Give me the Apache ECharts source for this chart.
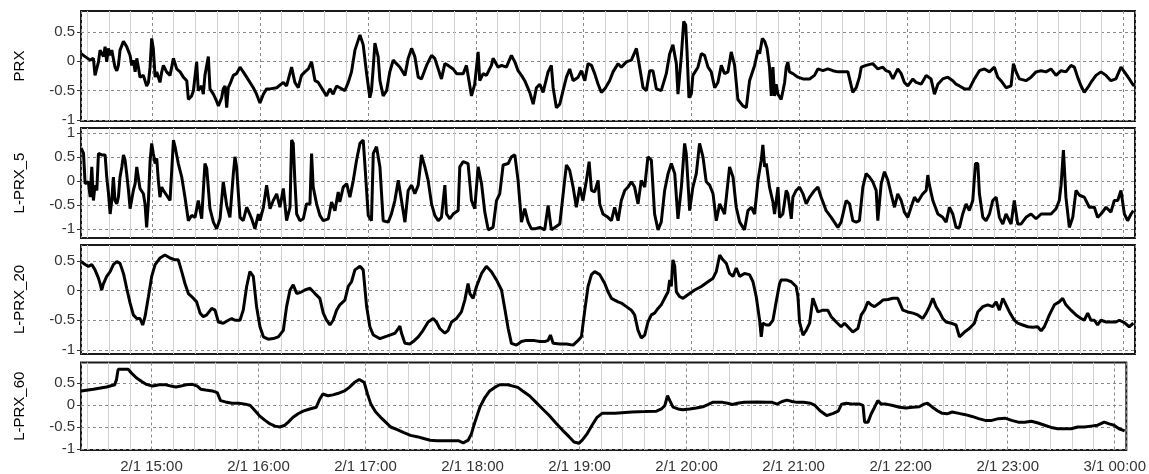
<!DOCTYPE html>
<html><head><meta charset="utf-8">
<script src="https://cdn.jsdelivr.net/npm/echarts@6/dist/echarts.min.js"></script>
<style>html,body{margin:0;padding:0;background:#fff}#c{width:1149px;height:474px}</style>
</head><body><div id="c"></div>
<script>
// time = minutes after 2/1 14:00, value
const prx = [[20.6,0.13],[22.8,0.08],[25.6,0.02],[27.4,0.05],[28.3,-0.24],[30.2,-0.01],[31.1,0.19],[33.0,0.08],[33.9,0.25],[34.8,-0.01],[35.7,0.22],[36.7,0.10],[37.6,0.19],[39.4,-0.10],[40.4,-0.16],[41.3,-0.07],[42.2,0.19],[44.1,0.34],[45.9,0.25],[47.8,0.10],[48.7,-0.07],[49.6,0.02],[50.6,-0.18],[51.5,0.05],[52.4,-0.10],[53.3,-0.27],[55.2,-0.24],[57.0,-0.42],[58.0,-0.36],[58.9,-0.10],[59.8,0.39],[60.7,0.22],[61.7,-0.27],[62.6,-0.18],[64.4,-0.36],[65.4,-0.18],[66.3,-0.07],[68.1,-0.18],[70.0,-0.24],[71.9,0.05],[73.7,-0.13],[75.6,-0.18],[77.4,-0.27],[79.3,-0.33],[80.2,-0.65],[82.0,-0.59],[83.0,-0.50],[84.8,-0.01],[85.7,-0.50],[87.6,-0.42],[88.5,-0.56],[89.4,-0.24],[91.3,0.08],[92.2,-0.47],[94.1,-0.56],[95.9,-0.68],[96.9,-0.76],[97.8,-0.73],[98.7,-0.62],[99.6,-0.47],[100.6,-0.42],[101.5,-0.79],[102.4,-0.45],[103.3,-0.39],[105.2,-0.24],[107.0,-0.21],[108.9,-0.10],[110.7,-0.18],[112.6,-0.27],[116.3,-0.45],[118.1,-0.56],[120.0,-0.71],[121.9,-0.56],[123.7,-0.47],[125.6,-0.47],[129.3,-0.45],[133.0,-0.36],[134.8,-0.42],[137.6,-0.10],[139.4,-0.36],[141.3,-0.45],[143.1,-0.24],[145.0,-0.18],[146.9,-0.13],[148.7,-0.01],[150.6,-0.33],[152.4,-0.36],[155.2,-0.50],[157.0,-0.59],[158.9,-0.47],[160.7,-0.56],[162.6,-0.42],[164.4,-0.45],[167.2,-0.50],[169.1,-0.36],[170.9,-0.18],[172.8,0.19],[175.6,0.45],[177.4,0.28],[179.3,-0.21],[181.1,-0.62],[182.0,-0.50],[183.0,-0.10],[183.9,0.31],[184.8,0.34],[185.7,0.08],[186.7,-0.33],[188.5,-0.59],
[190.4,-0.50],[192.2,-0.18],[194.1,0.02],[195.9,-0.04],[197.8,-0.10],[200.6,-0.24],[202.4,0.05],[204.3,0.22],[206.1,0.08],[208.0,-0.27],[209.8,-0.30],[212.6,-0.07],[215.4,0.10],[217.2,0.05],[219.1,-0.13],[220.9,-0.30],[222.8,-0.04],[224.6,-0.07],[227.4,-0.13],[229.3,-0.21],[233.0,-0.21],[234.8,-0.07],[237.6,-0.59],[239.4,-0.39],[241.3,0.16],[242.2,-0.33],[244.1,-0.21],[245.9,-0.24],[248.7,-0.07],[249.6,0.05],[252.4,-0.10],[254.3,-0.07],[257.0,-0.10],[259.8,0.10],[261.7,-0.01],[263.5,-0.16],[265.4,-0.24],[267.2,-0.33],[270.0,-0.53],[271.9,-0.73],[273.7,-0.45],[275.6,-0.39],[277.4,-0.53],[280.2,-0.18],[282.0,-0.07],[283.0,-0.45],[284.8,-0.79],[286.7,-0.73],[288.5,-0.50],[290.4,-0.27],[292.2,-0.13],[294.1,-0.33],[296.9,-0.27],[298.7,-0.16],[300.6,-0.33],[302.4,-0.04],[304.3,-0.07],[306.1,-0.21],[308.0,-0.39],[309.8,-0.53],[311.7,-0.47],[314.4,-0.33],[316.3,-0.18],[319.1,-0.04],[320.9,-0.10],[323.7,-0.01],[326.5,0.02],[329.3,0.22],[331.1,-0.10],[333.0,-0.45],[334.8,-0.50],[336.7,-0.16],[338.5,-0.16],[340.4,-0.47],[343.1,-0.50],[345.9,-0.21],[347.8,0.13],[349.6,0.28],[351.5,-0.04],[352.4,-0.56],[354.3,0.10],[355.6,0.68],[356.7,0.62],[357.4,0.19],[358.5,-0.62],[359.8,-0.56],[360.7,-0.24],[363.5,-0.10],[365.4,0.13],[367.2,0.10],[369.1,-0.10],[370.9,-0.18],[372.8,-0.45],[374.6,-0.36],[376.5,-0.07],[378.3,-0.21],[380.2,-0.18],[382.0,0.16],[383.9,-0.07],[385.7,-0.65],[388.5,-0.76],[390.4,-0.79],[392.2,-0.33],[395.0,-0.07],[396.9,0.19],[397.8,0.13],[399.3,0.39],[400.6,0.34],[401.9,0.22],[403.3,-0.10],[404.3,-0.59],
[405.2,-0.10],[406.1,-0.59],[407.0,-0.39],[408.0,-0.56],[409.8,-0.65],[411.7,-0.36],[412.6,-0.10],[413.5,-0.01],[414.4,-0.18],[416.3,-0.21],[419.1,-0.27],[421.9,-0.30],[425.6,-0.30],[428.3,-0.24],[430.2,-0.13],[433.0,-0.16],[435.7,-0.13],[438.5,-0.16],[441.3,-0.18],[444.1,-0.18],[446.9,-0.18],[449.6,-0.53],[451.5,-0.45],[453.3,-0.27],[454.3,-0.10],[457.0,-0.07],[460.7,-0.04],[463.5,-0.13],[466.3,-0.10],[468.1,-0.16],[470.0,-0.18],[471.9,-0.30],[474.6,-0.13],[476.5,-0.21],[478.3,-0.36],[480.2,-0.42],[483.0,-0.30],[484.8,-0.36],[487.6,-0.39],[490.4,-0.24],[493.1,-0.30],[495.0,-0.56],[496.9,-0.39],[499.6,-0.30],[502.4,-0.27],[505.2,-0.33],[507.0,-0.39],[508.9,-0.42],[511.7,-0.47],[514.4,-0.47],[517.2,-0.30],[520.0,-0.16],[522.8,-0.13],[525.6,-0.18],[528.3,-0.10],[530.2,-0.27],[532.0,-0.33],[534.8,-0.45],[537.6,-0.42],[538.9,-0.04],[540.4,-0.18],[542.2,-0.30],[545.9,-0.33],[548.7,-0.27],[551.5,-0.18],[554.3,-0.16],[557.0,-0.18],[559.8,-0.13],[562.6,-0.24],[565.4,-0.16],[568.1,-0.18],[570.9,-0.07],[572.8,-0.10],[574.6,-0.27],[576.5,-0.42],[578.3,-0.53],[580.2,-0.45],[582.0,-0.36],[584.8,-0.24],[587.6,-0.18],[590.4,-0.24],[593.1,-0.33],[595.9,-0.30],[598.7,-0.10],[600.6,-0.18],[603.3,-0.30],[605.2,-0.39],[606.1,-0.42]];

const lprx5 = [[20.6,0.69],[21.9,0.58],[22.8,-0.05],[23.7,-0.08],[24.6,-0.01],[25.6,-0.33],[26.5,0.30],[27.4,-0.40],[28.3,-0.08],[29.3,-0.19],[30.2,0.58],[31.1,0.62],[32.0,0.55],[33.0,0.51],[33.9,0.55],[34.8,0.09],[35.7,-0.22],[36.7,-0.68],[37.6,-0.40],[38.5,0.09],[39.4,-0.40],[40.4,-0.47],[41.3,-0.33],[42.2,0.09],[43.2,0.30],[44.1,0.55],[45.0,0.44],[45.9,0.16],[46.9,-0.19],[47.8,-0.57],[48.7,-0.54],[49.6,-0.19],[50.6,-0.05],[51.5,0.30],[52.4,0.34],[53.3,-0.15],[55.2,-0.26],[56.1,-0.47],[57.0,-0.96],[58.0,-0.40],[58.9,0.41],[59.8,0.79],[60.7,0.58],[61.7,0.37],[62.6,0.48],[63.5,0.02],[64.4,-0.33],[65.4,-0.12],[66.3,-0.19],[68.1,-0.29],[70.0,-0.40],[71.9,0.86],[72.8,0.72],[74.6,0.37],[76.5,0.09],[78.3,-0.33],[80.2,-0.82],[82.0,-0.71],[83.9,-0.75],[85.7,-0.40],[87.6,-0.78],[89.4,0.37],[90.4,0.27],[92.2,-0.57],[94.1,-0.85],[95.9,-0.99],[97.8,-0.78],[99.6,-0.01],[101.5,-0.50],[103.3,-0.75],[105.2,0.16],[106.1,0.51],[107.0,0.30],[108.0,-0.26],[108.9,-0.75],[110.7,-0.82],[112.6,-0.54],[113.5,-0.61],[115.4,-0.78],[117.2,-0.99],[119.1,-0.68],[120.0,-0.82],[121.9,-0.54],[123.7,-0.08],[125.6,-0.57],[127.4,-0.40],[129.3,-0.26],[131.1,-0.54],[133.0,-0.15],[134.8,-0.82],[136.7,-0.54],[137.6,0.86],[138.5,0.79],[139.4,0.02],[140.4,-0.68],[142.2,-0.82],[144.1,-0.78],[145.9,-0.47],[147.8,-0.47],[148.7,0.58],[149.6,-0.12],[151.5,-0.47],[153.3,-0.71],[155.2,-0.82],[158.0,-0.78],[159.8,-0.43],[161.7,-0.61],[163.5,-0.22],[164.4,-0.43],[166.3,-0.12],[168.2,-0.05],[170.0,-0.33],[171.9,0.02],[173.7,0.44],[175.6,0.79],[177.4,0.86],[178.3,0.37],[180.2,-0.71],[182.0,-0.82],[183.0,0.58],[184.8,0.72],[186.7,0.30],[188.5,-0.82],[191.3,-0.85],[193.1,-0.68],[195.0,-0.40],[196.9,0.02],
[197.8,-0.19],[200.6,-0.85],[202.4,-0.19],[204.3,-0.08],[206.1,-0.26],[208.0,-0.08],[209.8,0.55],[211.7,0.30],[213.5,0.02],[215.4,-0.47],[217.2,-0.71],[219.1,-0.82],[220.9,-0.75],[222.8,-0.08],[223.7,-0.68],[225.6,-0.78],[227.4,-0.68],[230.2,-0.61],[231.1,0.30],[233.0,0.41],[235.7,0.37],[237.6,-0.40],[239.4,-0.57],[241.3,0.30],[243.2,-0.05],[245.0,-0.64],[246.9,-1.01],[249.6,-0.96],[251.5,-0.40],[253.3,-0.26],[255.2,0.34],[258.0,0.37],[259.8,0.51],[261.7,0.55],[263.5,0.02],[265.4,-0.85],[267.2,-0.57],[269.1,-0.85],[270.9,-0.99],[272.8,-0.99],[275.6,-0.96],[278.3,-1.01],[280.2,-0.50],[282.0,-1.01],[283.9,-0.96],[286.7,-0.89],[289.4,0.02],[290.4,0.34],[292.2,0.23],[294.1,-0.12],[295.9,-0.54],[297.8,-0.12],[299.6,-0.40],[301.5,0.02],[303.0,0.41],[304.3,-0.19],[306.1,-0.22],[308.0,0.02],[308.9,-0.47],[310.7,-0.68],[313.5,-0.75],[315.4,-0.82],[317.2,-0.54],[319.1,-0.82],[320.9,-0.40],[322.8,-0.19],[324.6,-0.12],[326.5,-0.01],[328.3,-0.12],[330.2,-0.47],[332.0,0.02],[333.9,-0.12],[335.7,0.51],[337.6,0.44],[339.4,-0.68],[341.3,-1.01],[343.1,-0.85],[345.0,-0.19],[346.9,0.16],[348.7,0.37],[350.6,0.16],[352.4,-0.78],[354.3,-0.12],[356.1,0.79],[357.0,0.58],[358.9,-0.61],[360.7,-0.12],[362.6,0.16],[364.4,0.79],[366.3,0.51],[368.1,-0.01],[370.0,-0.08],[371.9,-0.26],[373.7,-0.82],[375.6,-0.47],[378.3,-0.68],[381.1,0.30],[383.0,0.09],[384.8,-0.54],[386.7,-0.85],[389.4,-1.01],[391.3,-0.61],[393.2,-0.54],[395.0,-0.68],[396.9,0.02],[398.7,0.44],[399.6,0.76],[400.6,0.30],[401.5,0.37],[403.3,-0.12],[405.2,-0.43],
[406.1,-0.68],[408.0,-0.12],[408.9,-0.75],[410.7,-0.68],[412.6,-0.19],[413.5,-0.26],[415.4,-0.78],[416.3,-0.33],[418.1,-0.19],[420.0,-0.12],[421.9,-0.26],[423.7,-0.47],[425.6,-0.33],[428.3,-0.19],[430.2,-0.12],[432.0,-0.33],[434.8,-0.61],[437.6,-0.75],[441.3,-0.96],[443.1,-0.85],[445.9,-0.40],[447.8,-0.47],[449.6,-0.82],[451.5,-0.85],[453.3,-0.82],[455.2,-0.12],[457.0,0.16],[458.9,0.09],[460.7,-0.01],[462.6,-0.19],[463.5,-0.82],[465.4,-0.05],[467.2,0.20],[469.1,0.02],[470.9,-0.26],[472.8,-0.54],[474.6,-0.26],[476.5,-0.40],[478.3,-0.64],[480.2,-0.75],[482.0,-0.54],[483.9,-0.33],[485.7,-0.43],[488.5,-0.26],[490.4,-0.19],[491.3,0.13],[492.2,-0.08],[494.1,-0.40],[496.9,-0.68],[499.6,-0.75],[501.5,-0.85],[503.3,-0.54],[505.2,-0.68],[507.0,-0.96],[508.9,-0.96],[510.7,-0.68],[512.6,-0.47],[514.4,-0.61],[516.3,-0.40],[517.8,0.37],[519.1,0.37],[520.0,-0.26],[521.9,-0.75],[523.7,-0.82],[525.6,-0.68],[527.4,-0.40],[529.3,-0.33],[531.1,-0.75],[533.0,-0.89],[534.8,-0.68],[537.6,-0.89],[539.4,-0.40],[541.3,-0.89],[543.1,-0.89],[545.9,-0.75],[548.7,-0.68],[551.5,-0.78],[554.3,-0.68],[557.0,-0.68],[559.8,-0.68],[562.6,-0.57],[564.4,-0.40],[565.4,-0.08],[566.7,0.65],[568.1,-0.33],[570.0,-0.96],[571.9,-0.75],[573.7,-0.19],[575.6,-0.29],[578.3,-0.33],[581.1,-0.54],[583.9,-0.54],[585.7,-0.75],[587.6,-0.68],[590.4,-0.54],[593.1,-0.64],[595.0,-0.40],[596.9,-0.40],[598.7,-0.19],[600.6,-0.68],[602.4,-0.82],[604.3,-0.68],[605.6,-0.61]];

const lprx20 = [[20.6,0.49],[22.8,0.44],[24.6,0.41],[26.5,0.44],[28.3,0.35],[30.2,0.21],[31.1,0.12],[32.0,0.01],[33.0,0.12],[34.8,0.24],[36.7,0.32],[38.5,0.44],[40.4,0.49],[42.2,0.46],[44.1,0.29],[45.9,0.04],[47.8,-0.21],[49.6,-0.41],[51.5,-0.47],[53.3,-0.47],[54.8,-0.58],[56.1,-0.44],[58.0,-0.10],[59.8,0.24],[61.7,0.44],[64.4,0.55],[67.2,0.60],[70.0,0.55],[72.8,0.52],[74.6,0.52],[76.5,0.32],[78.3,0.12],[80.2,-0.05],[82.0,-0.10],[84.8,-0.19],[86.7,-0.38],[88.5,-0.44],[90.4,-0.41],[93.2,-0.30],[95.0,-0.33],[96.9,-0.53],[99.6,-0.55],[102.4,-0.50],[104.3,-0.47],[106.1,-0.50],[108.9,-0.50],[110.7,-0.33],[112.6,0.07],[114.4,0.32],[116.3,0.24],[118.1,-0.27],[120.0,-0.61],[121.9,-0.78],[124.6,-0.82],[127.4,-0.81],[130.2,-0.78],[133.0,-0.67],[134.8,-0.27],[136.7,0.01],[138.5,0.10],[140.4,-0.05],[143.2,-0.02],[145.0,0.01],[147.8,0.04],[150.6,-0.05],[153.3,-0.13],[155.2,-0.38],[157.0,-0.50],[158.9,-0.58],[160.7,-0.50],[162.6,-0.33],[164.4,-0.24],[167.2,-0.16],[169.1,0.07],[170.9,0.15],[172.8,0.35],[175.6,0.41],[177.4,0.35],[179.3,-0.27],[181.1,-0.61],[183.0,-0.75],[186.7,-0.81],
[189.4,-0.78],[192.2,-0.75],[195.0,-0.72],[196.9,-0.64],[197.8,-0.60],[198.7,-0.72],[200.6,-0.89],[203.3,-0.90],[205.2,-0.86],[208.0,-0.78],[210.7,-0.67],[213.5,-0.53],[216.3,-0.47],[218.1,-0.53],[220.0,-0.64],[222.8,-0.72],[224.6,-0.67],[226.5,-0.53],[229.3,-0.47],[232.0,-0.36],[233.9,-0.16],[235.7,0.12],[236.7,-0.05],[238.5,-0.13],[240.4,0.07],[243.2,0.29],[245.9,0.41],[248.7,0.32],[251.5,0.18],[254.3,0.01],[256.1,-0.30],[258.0,-0.64],[259.8,-0.89],[262.6,-0.92],[265.4,-0.86],[268.1,-0.84],[271.9,-0.84],[275.6,-0.86],[278.3,-0.86],[280.2,-0.84],[281.5,-0.75],[283.0,-0.89],[286.7,-0.90],[290.4,-0.90],[294.1,-0.92],[296.9,-0.84],[298.7,-0.78],[300.6,-0.33],[302.4,0.07],[304.3,0.27],[306.1,0.32],[308.9,0.27],[311.7,0.12],[313.5,-0.02],[315.4,-0.13],[317.2,-0.16],[319.1,-0.19],[320.9,-0.21],[323.7,-0.27],[326.5,-0.33],[328.3,-0.41],[330.2,-0.67],[332.0,-0.80],[333.9,-0.75],[335.7,-0.53],[337.6,-0.41],[339.4,-0.38],[341.3,-0.30],[343.1,-0.24],[345.0,-0.13],[346.9,-0.02],[347.8,0.18],[348.7,0.07],[349.6,0.52],[350.6,0.41],[351.5,-0.02],[353.3,-0.10],[355.2,-0.13],[357.9,-0.07],[361.7,0.01],[365.4,0.07],[369.1,0.15],[371.9,0.21],[373.7,0.32],[375.6,0.60],[377.4,0.52],[379.3,0.46],[381.1,0.29],[383.0,0.24],[384.8,0.38],[386.7,0.24],[389.4,0.29],[392.2,0.27],[394.1,0.15],[395.9,-0.10],[397.8,-0.50],[398.7,-0.78],[399.6,-0.55],[401.5,-0.58],[403.3,-0.58],[405.2,-0.50],[407.0,-0.19],[408.9,0.12],
[409.8,0.18],[412.6,0.18],[415.4,0.15],[418.1,0.07],[419.1,-0.10],[420.0,-0.53],[421.9,-0.75],[423.7,-0.67],[425.6,-0.55],[427.4,-0.13],[428.3,-0.13],[430.2,-0.36],[433.0,-0.33],[435.7,-0.33],[437.6,-0.44],[440.4,-0.53],[443.1,-0.61],[445.0,-0.55],[446.9,-0.61],[449.6,-0.70],[452.4,-0.64],[454.3,-0.41],[456.1,-0.33],[458.0,-0.19],[459.8,-0.24],[461.7,-0.27],[464.4,-0.21],[466.3,-0.16],[469.1,-0.15],[471.9,-0.13],[474.6,-0.13],[477.4,-0.33],[480.2,-0.36],[483.0,-0.38],[485.7,-0.41],[488.5,-0.47],[490.4,-0.38],[492.2,-0.27],[494.1,-0.13],[495.9,-0.27],[497.8,-0.36],[499.6,-0.47],[501.5,-0.53],[504.3,-0.55],[507.0,-0.58],[508.9,-0.78],[511.7,-0.70],[514.4,-0.64],[517.2,-0.55],[519.1,-0.36],[521.9,-0.27],[524.6,-0.24],[527.4,-0.27],[529.3,-0.19],[531.1,-0.33],[533.0,-0.13],[534.8,-0.24],[536.7,-0.36],[539.4,-0.50],[541.3,-0.55],[544.1,-0.58],[546.9,-0.61],[549.6,-0.62],[552.4,-0.61],[554.3,-0.68],[556.1,-0.61],[558.9,-0.41],[561.7,-0.24],[564.4,-0.19],[566.3,-0.13],[568.1,-0.24],[570.9,-0.33],[573.7,-0.41],[576.5,-0.47],[578.3,-0.50],[580.2,-0.38],[582.0,-0.50],[583.9,-0.50],[585.7,-0.58],[587.6,-0.50],[590.4,-0.53],[593.1,-0.53],[595.9,-0.53],[597.8,-0.50],[600.6,-0.54],[603.3,-0.61],[605.6,-0.55]];

const lprx60 = [[20.6,0.32],[27.4,0.36],[34.8,0.41],[39.4,0.46],[40.4,0.58],[41.3,0.81],[44.1,0.81],[46.9,0.81],[48.7,0.73],[51.5,0.62],[54.3,0.54],[57.0,0.47],[60.7,0.43],[64.4,0.46],[68.1,0.46],[70.9,0.43],[73.7,0.41],[76.5,0.43],[79.3,0.46],[83.0,0.47],[85.7,0.43],[87.6,0.36],[90.4,0.34],[94.1,0.32],[96.9,0.28],[98.7,0.10],[101.5,0.07],[105.2,0.04],[108.9,0.04],[112.6,0.02],[115.4,-0.01],[118.1,-0.13],[120.9,-0.26],[123.7,-0.35],[126.5,-0.43],[129.3,-0.48],[132.0,-0.50],[134.8,-0.46],[136.7,-0.39],[139.4,-0.28],[142.2,-0.20],[145.0,-0.14],[148.7,-0.09],[152.4,-0.05],[154.3,0.13],[156.1,0.25],[158.9,0.21],[161.7,0.23],[164.4,0.26],[168.2,0.32],[170.9,0.40],[173.7,0.51],[176.5,0.58],[179.3,0.51],[181.1,0.25],[183.0,0.02],[185.7,-0.16],[188.5,-0.28],[191.3,-0.39],[194.1,-0.50],[197.8,-0.56],
[201.5,-0.63],[205.2,-0.69],[208.9,-0.72],[212.6,-0.76],[216.3,-0.80],[220.0,-0.81],[227.4,-0.81],[232.0,-0.81],[234.8,-0.86],[237.6,-0.80],[239.4,-0.65],[241.3,-0.39],[244.1,-0.05],[246.9,0.17],[249.6,0.32],[252.4,0.40],[255.2,0.46],[259.8,0.46],[262.6,0.43],[265.4,0.40],[268.1,0.32],[271.9,0.21],[275.6,0.06],[279.3,-0.09],[283.0,-0.24],[286.7,-0.41],[290.4,-0.57],[294.1,-0.72],[296.9,-0.84],[299.6,-0.87],[301.5,-0.80],[304.3,-0.65],[307.0,-0.46],[309.8,-0.28],[312.6,-0.19],[320.0,-0.19],[329.3,-0.16],[336.7,-0.15],[343.1,-0.14],[345.9,-0.09],[347.8,-0.01],[349.3,0.21],[350.6,0.10],[352.4,-0.05],[355.2,-0.09],[357.9,-0.11],[361.7,-0.09],[365.4,-0.07],[369.1,-0.04],[371.9,0.01],[374.6,0.06],[380.2,0.06],[383.0,0.04],[385.7,0.01],[388.5,0.04],[392.2,0.06],[399.6,0.07],
[405.2,0.06],[408.0,0.06],[410.7,0.02],[413.5,0.08],[416.3,0.11],[419.1,0.08],[421.9,0.06],[425.6,0.06],[429.3,0.04],[432.0,-0.01],[434.8,-0.13],[438.5,-0.24],[442.2,-0.19],[445.0,-0.14],[446.9,0.02],[449.6,0.04],[453.3,0.02],[457.0,0.02],[458.9,-0.01],[459.8,-0.39],[461.7,-0.39],[463.5,-0.20],[465.4,-0.05],[467.2,0.10],[469.1,0.02],[471.9,0.02],[475.6,-0.01],[479.3,-0.05],[483.0,-0.07],[486.7,-0.05],[490.4,-0.04],[493.1,0.02],[495.0,0.04],[497.8,-0.05],[500.6,-0.13],[503.3,-0.19],[506.1,-0.20],[508.9,-0.16],[512.6,-0.19],[516.3,-0.22],[520.0,-0.26],[523.7,-0.31],[527.4,-0.35],[531.1,-0.35],[534.8,-0.31],[538.5,-0.30],[542.2,-0.35],[545.9,-0.39],[549.6,-0.39],[553.3,-0.37],[557.0,-0.41],[560.7,-0.46],[564.4,-0.51],[568.1,-0.54],[575.6,-0.54],[579.3,-0.50],[583.0,-0.50],[586.7,-0.48],[590.4,-0.46],[594.1,-0.39],[596.9,-0.43],[599.6,-0.46],[602.4,-0.54],[605.6,-0.59]];

const panelNames = ['PRX', 'L-PRX_5', 'L-PRX_20', 'L-PRX_60'];
const yTicks = [[-1, -0.5, 0, 0.5], [-1, -0.5, 0, 0.5, 1], [-1, -0.5, 0, 0.5], [-1, -0.5, 0, 0.5]];
const yRanges = [[-1.017, 0.857], [-1.18, 1.11], [-1.07, 0.77], [-1.023, 0.966]];
const xRangeMin = [20.5, 606.5];
const minorStepMin = 12;

const seriesData = [prx, lprx5, lprx20, lprx60];
const base = new Date(2000, 0, 2, 14, 0, 0).getTime();
const toTs = m => base + m * 60000;
const pad = n => (n < 10 ? '0' : '') + n;
const fmtTime = v => { const d = new Date(v); return d.getDate() + '/' + (d.getMonth() + 1) + ' ' + pad(d.getHours()) + ':' + pad(d.getMinutes()); };

// minor (12-minute) grid line positions, skipping whole hours
const minorLines = [];
for (let m = Math.ceil(xRangeMin[0] / minorStepMin) * minorStepMin; m < xRangeMin[1]; m += minorStepMin) {
  if (m % 60 !== 0) minorLines.push({xAxis: toTs(m)});
}

const layout = [{top: 11, height: 110}, {top: 128, height: 110}, {top: 245, height: 109}, {top: 362.5, height: 87.5}];
const font = "'Liberation Sans', Arial, sans-serif";

const grids = [], xAxes = [], yAxes = [], series = [];
for (let i = 0; i < 4; i++) {
  grids.push({left: 81, width: 1054, top: layout[i].top, height: layout[i].height, show: true, borderColor: '#1a1a1a', borderWidth: 2, backgroundColor: '#fff', containLabel: false});
  xAxes.push({
    type: 'time', gridIndex: i, min: toTs(xRangeMin[0]), max: toTs(xRangeMin[1]),
    minInterval: 3600000, maxInterval: 3600000,
    axisLine: {show: false}, axisTick: {show: false},
    axisLabel: {show: i === 3, showMinLabel: false, showMaxLabel: false, formatter: v => fmtTime(v), fontSize: 15, fontFamily: font, color: '#333', margin: 9, hideOverlap: false},
    splitLine: {show: true, lineStyle: {color: '#8a8a8a', width: 1, type: [3, 3]}},
    minorSplitLine: {show: false}
  });
  yAxes.push({
    type: 'value', gridIndex: i, min: yRanges[i][0], max: yRanges[i][1], splitNumber: 4,
    name: panelNames[i], nameLocation: 'middle', nameGap: 54,
    nameTextStyle: {fontSize: 15, fontFamily: font, color: '#000'},
    axisLine: {show: false},
    axisTick: {show: true, length: 4, customValues: yTicks[i], lineStyle: {color: '#333'}},
    axisLabel: {customValues: yTicks[i], fontSize: 15, fontFamily: font, color: '#333', margin: 6, formatter: v => String(v)},
    splitLine: {show: true, lineStyle: {color: '#8a8a8a', width: 1, type: [3, 3]}}
  });
  const pts = seriesData[i].map(p => [toTs(p[0]), p[1]]);
  // faint minor grid (drawn beneath the data line)
  series.push({
    type: 'line', xAxisIndex: i, yAxisIndex: i, showSymbol: false, symbol: 'none', silent: true, z: 1,
    lineStyle: {opacity: 0}, data: pts,
    markLine: {silent: true, symbol: ['none', 'none'], label: {show: false}, animation: false,
      lineStyle: {color: '#d2d2d2', width: 1, type: 'solid'}, emphasis: {disabled: true}, data: minorLines}
  });
  series.push({
    type: 'line', xAxisIndex: i, yAxisIndex: i, showSymbol: false, symbol: 'none', clip: true,
    lineStyle: {color: '#000', width: 3}, z: 5,
    data: pts
  });
}

const chart = echarts.init(document.getElementById('c'), null, {renderer: 'canvas'});
chart.setOption({animation: false, backgroundColor: '#fff', grid: grids, xAxis: xAxes, yAxis: yAxes, series: series});
</script></body></html>
